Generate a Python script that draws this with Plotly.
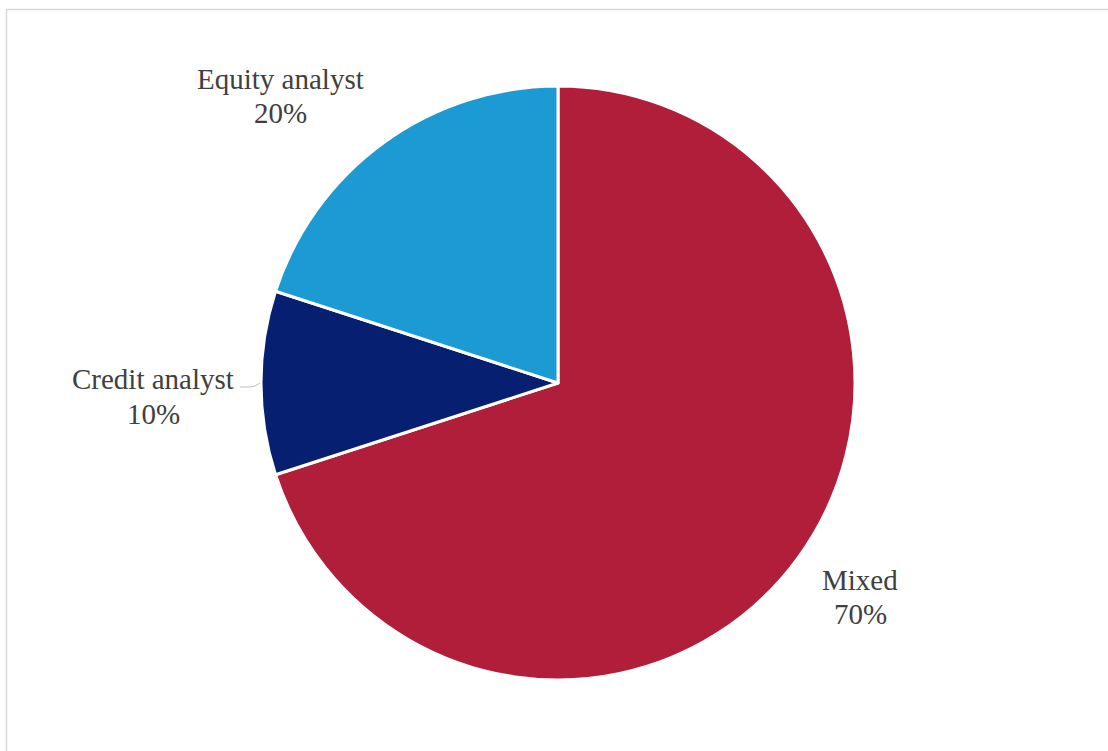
import plotly.graph_objects as go

labels = ["Mixed", "Credit analyst", "Equity analyst"]
values = [70, 10, 20]
colors = ["#B01E3A", "#071F70", "#1C9AD4"]

W, H = 1108, 751
cx, cy, r = 558, 383, 297

fig = go.Figure(go.Pie(
    labels=labels, values=values, sort=False, direction="clockwise", rotation=0,
    marker=dict(colors=colors, line=dict(color="white", width=3)),
    textinfo="none", hoverinfo="label+percent", showlegend=False,
    domain=dict(x=[(cx - r) / W, (cx + r) / W], y=[1 - (cy + r) / H, 1 - (cy - r) / H]),
))

total = sum(values)
# (x center, y middle of name line, y middle of percent line) in pixels
label_pos = {"Mixed": (860, 580, 614), "Credit analyst": (153, 379, 414), "Equity analyst": (280, 79, 113)}
font = dict(family="Liberation Serif", size=29, color="#404040")
for lab, val in zip(labels, values):
    x, y1, y2 = label_pos[lab]
    for txt, yy in ((lab, y1), (f"{round(100 * val / total)}%", y2)):
        fig.add_annotation(x=x / W, y=1 - yy / H, xref="paper", yref="paper",
                           text=txt, showarrow=False, font=font,
                           xanchor="center", yanchor="middle")

# connector for Credit analyst label
fig.add_shape(type="path", xref="paper", yref="paper",
              path=f"M {240/W} {1-387/H} L {250/W} {1-387/H} Q {255/W} {1-387/H} {260/W} {1-383/H}",
              line=dict(color="#BFBFBF", width=1))

# chart frame
fig.add_shape(type="rect", xref="paper", yref="paper",
              x0=6.5 / W, x1=1.02, y0=-0.02, y1=1 - 9.5 / H,
              line=dict(color="#D9D9D9", width=1.5))

fig.update_layout(width=W, height=H, margin=dict(l=0, r=0, t=0, b=0),
                  paper_bgcolor="white", plot_bgcolor="white")
fig.write_html("out.html", config={"displayModeBar": False},
               post_script="document.body.style.margin='0';")
